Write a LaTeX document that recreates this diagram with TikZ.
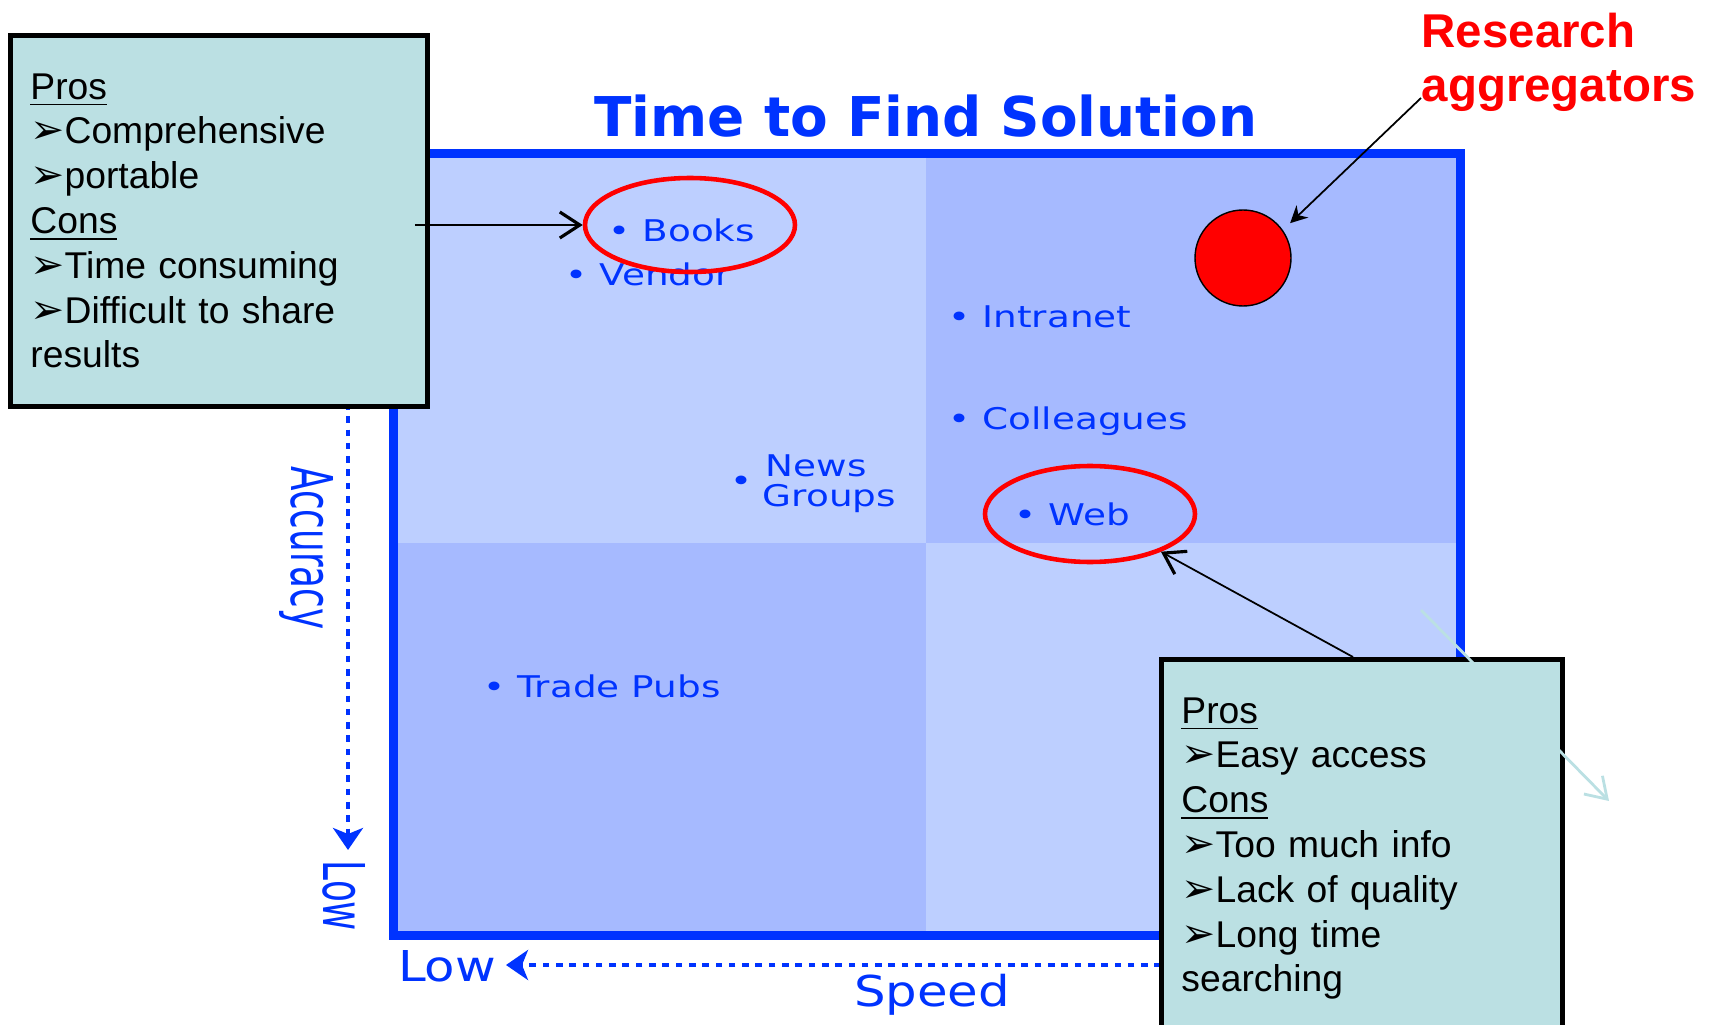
\documentclass[tikz,border=0pt]{standalone}
\usepackage{fontspec}
\setmainfont{Liberation Sans}
\newfontfamily\pixfont{DejaVu Sans}[FakeStretch=1.25]
\newfontfamily\pixwide{DejaVu Sans}[FakeStretch=1.17]
\newfontfamily\pixnarrow{DejaVu Sans}[FakeStretch=0.62]
\newfontfamily\titlefont{DejaVu Sans Bold}
\newfontfamily\dingfont{DejaVu Sans}
\usepackage{tikz}
\usetikzlibrary{arrows.meta,shapes.geometric}
\definecolor{BoardBlue}{RGB}{0,51,255}
\definecolor{QuadLight}{RGB}{189,207,255}
\definecolor{QuadDark}{RGB}{166,186,255}
\definecolor{NoteTeal}{RGB}{187,224,227}
\newcommand{\notearrow}{{\dingfont\fontsize{11.6}{12.75}\selectfont ➢}}

\begin{document}
\begin{tikzpicture}[
    item/.style={font=\pixfont\fontsize{8.5}{10}\selectfont, text=BoardBlue, anchor=base west, inner sep=0},
    axislabel/.style={font=\pixwide\fontsize{12.1}{14}\selectfont, text=BoardBlue, inner sep=0},
    sidelabel/.style={font=\pixnarrow\fontsize{16.4}{18}\selectfont, text=BoardBlue, inner sep=0, rotate=-90},
    axisarrow/.style={BoardBlue, line width=1.14pt, dash pattern=on 0.066cm off 0.067cm, -{Stealth[length=0.22cm,width=0.3cm,inset=0.06cm]}},
    ring/.style={ellipse, draw=red, line width=1.3pt, inner sep=0},
    notebox/.style={draw=black, line width=1.4pt, fill=NoteTeal, align=left, anchor=north west, inner xsep=0.2cm, inner ysep=0.38cm, font=\fontsize{10.6}{12.75}\selectfont},
    openarrow/.style={line width=0.5pt, -{Straight Barb[length=0.2cm,width=0.26cm,line width=0.9pt]}}
]
    \useasboundingbox (0,0) rectangle (17.14,-10.25);
    %%Quadrants
    \fill[QuadLight] (3.93,-1.54) rectangle (9.26,-5.43);
    \fill[QuadDark] (9.26,-1.54) rectangle (14.60,-5.43);
    \fill[QuadDark] (3.93,-5.43) rectangle (9.26,-9.35);
    \fill[QuadLight] (9.26,-5.43) rectangle (14.60,-9.35);
    \draw[BoardBlue, line width=0.09cm] (3.93,-1.54) rectangle (14.60,-9.35);
    %%Title
    \node[anchor=base, text=BoardBlue, font=\titlefont\fontsize{15.6}{18}\selectfont] (title) at (9.26,-1.37) {Time to Find Solution};
    \node[anchor=north west, inner sep=0, align=left, text=red, font=\bfseries\fontsize{13.5}{15.6}\selectfont] (research) at (14.21,-0.12) {Research\\aggregators};
    %%Sources
    \node[item] (books) at (6.08,-2.42) {• Books};
    \node[item] (vendor) at (5.65,-2.86) {• Vendor};
    \node[item] (intranet) at (9.48,-3.28) {• Intranet};
    \node[item] (colleagues) at (9.48,-4.30) {• Colleagues};
    \node[item] (newsdot) at (7.30,-4.92) {•};
    \node[item] (news) at (7.65,-4.76) {News};
    \node[item] (groups) at (7.62,-5.06) {Groups};
    \node[item] (web) at (10.14,-5.25) {• Web};
    \node[item] (tradepubs) at (4.83,-6.97) {• Trade Pubs};
    %%Highlights
    \node[ring, minimum width=2.10cm, minimum height=0.94cm] (booksring) at (6.90,-2.25) {};
    \node[ring, minimum width=2.10cm, minimum height=0.96cm] (webring) at (10.90,-5.14) {};
    \node[circle, fill=red, draw=black, line width=0.4pt, minimum size=0.96cm, inner sep=0] (aggdot) at (12.43,-2.58) {};
    %%Axes
    \coordinate (accstart) at (3.48,-4.03);
    \coordinate (accend) at (3.48,-8.50);
    \coordinate (speedstart) at (11.61,-9.65);
    \coordinate (speedend) at (5.06,-9.65);
    \draw[axisarrow] (accstart) -- (accend);
    \draw[axisarrow] (speedstart) -- (speedend);
    \node[sidelabel] (accuracy) at (3.07,-5.48) {Accuracy};
    \node[sidelabel] (lowacc) at (3.44,-8.96) {Low};
    \node[axislabel] (lowspeed) at (4.47,-9.665) {Low};
    \node[axislabel] (speed) at (9.32,-9.95) {Speed};
    %%Notes
    \node[notebox, text width=3.77cm, minimum width=4.17cm] (bookbox) at (0.08,-0.33)
        {\underline{Pros}\\\notearrow Comprehensive\\\notearrow portable\\\underline{Cons}\\\notearrow Time consuming\\\notearrow Difficult to share\\results};
    \node[notebox, text width=3.61cm, minimum width=4.01cm] (webbox) at (11.59,-6.57)
        {\underline{Pros}\\\notearrow Easy access\\\underline{Cons}\\\notearrow Too much info\\\notearrow Lack of quality\\\notearrow Long time\\searching};
    %%Pointers
    \draw[openarrow] ([xshift=-0.15cm]bookbox.east |- booksring.west) -- (booksring.west);
    \draw[openarrow] ([xshift=1.94cm]webbox.north west) -- (webring.-28);
    \coordinate (aggtail) at (14.21,-0.98);
    \draw[line width=0.5pt, shorten >=0.1cm, -{Stealth[length=0.17cm,width=0.17cm]}] (aggtail) -- (aggdot.35);
    \coordinate (cyantail) at (14.21,-6.10);
    \coordinate (cyantip) at (16.09,-8.01);
    \draw[NoteTeal, line width=0.8pt, -{Straight Barb[length=0.2cm,width=0.26cm]}] (cyantail) -- (cyantip);
\end{tikzpicture}
\end{document}
